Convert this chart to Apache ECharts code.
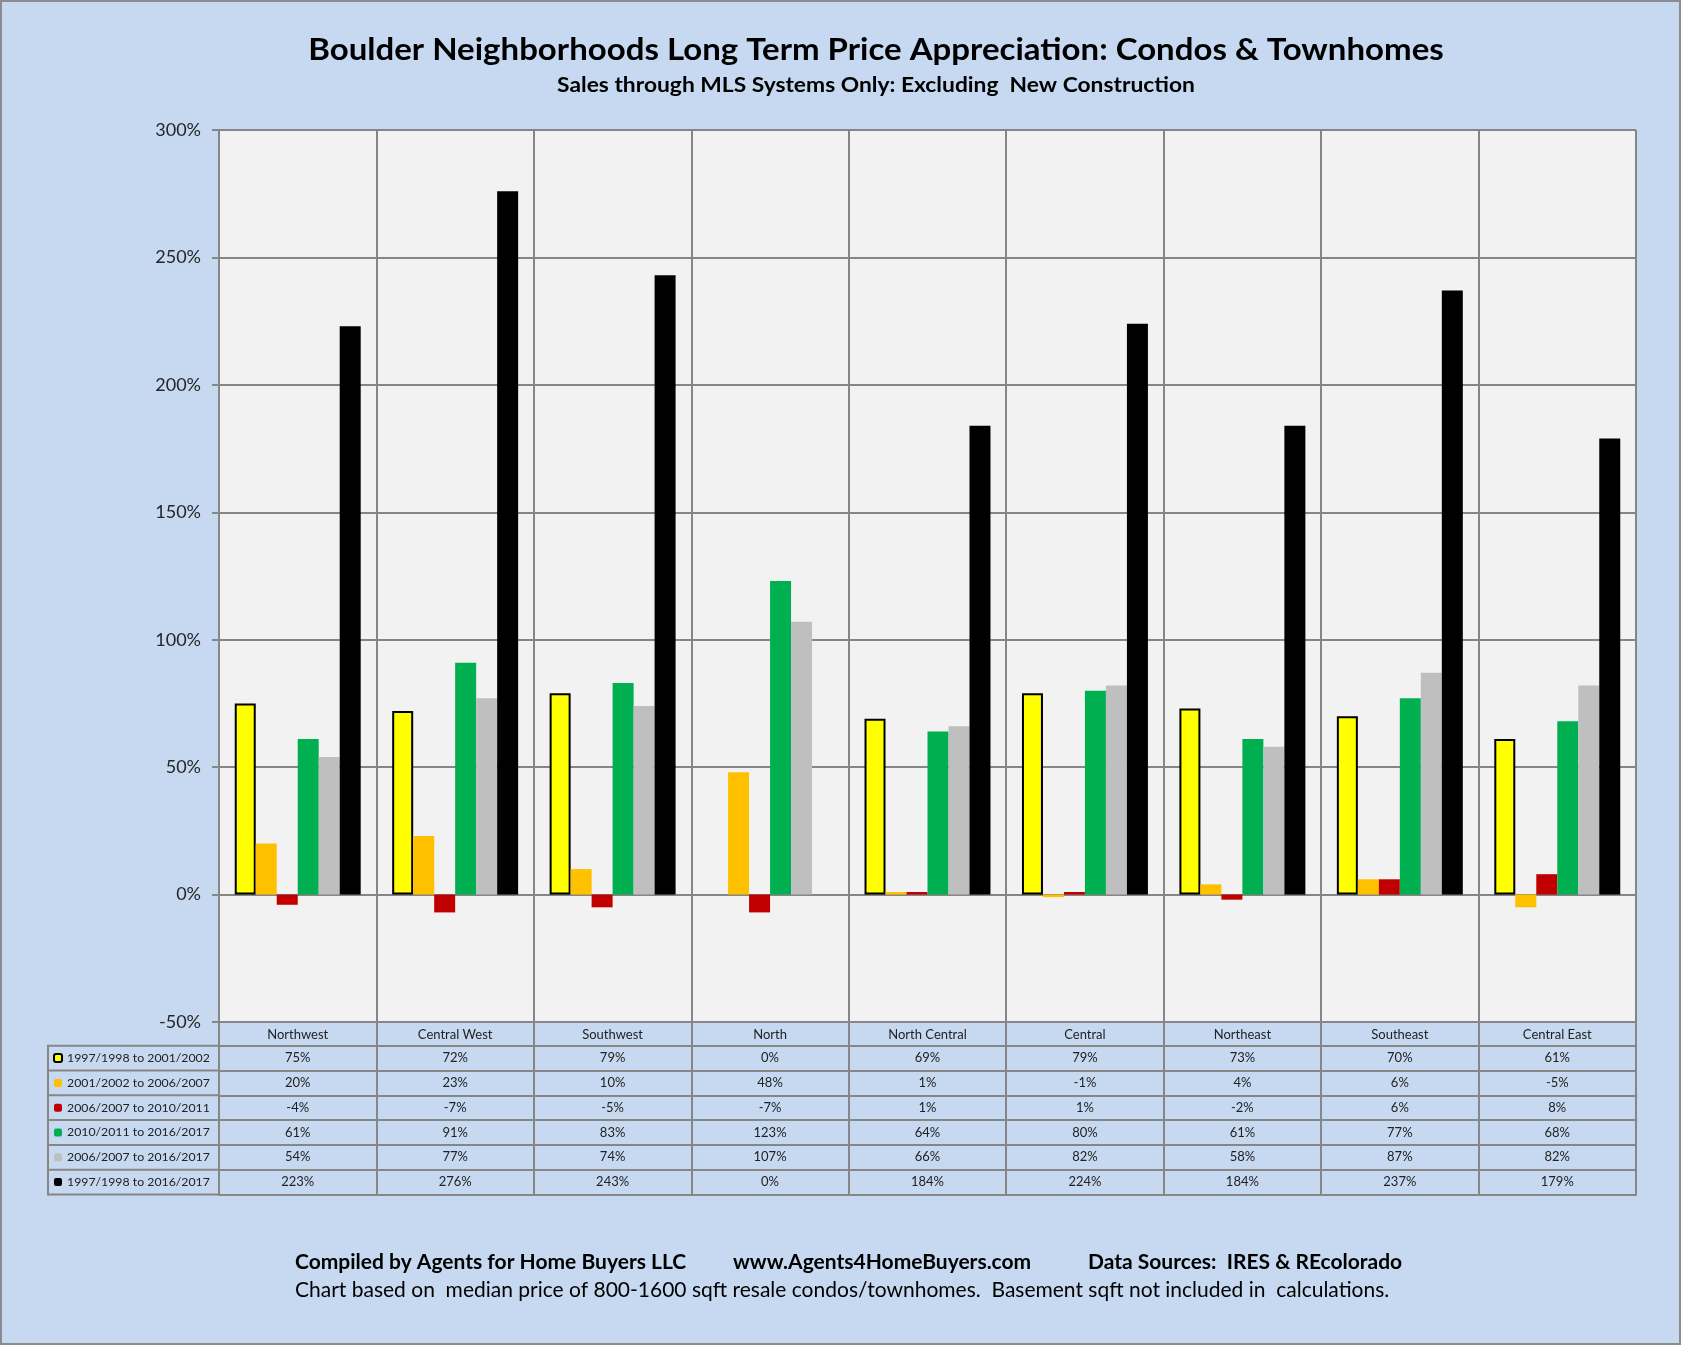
<!DOCTYPE html>
<html lang="en">
  <head>
    <meta charset="UTF-8" />
    <title>Boulder Neighborhoods Long Term Price Appreciation</title>
    <script src="https://cdn.jsdelivr.net/npm/echarts@6/dist/echarts.min.js"></script>
    <style>
      body { margin: 0; }
    </style>
  </head>

  <body>
    <div id="main" style="width: 1681px; height: 1345px"></div>

    <script type="text/javascript">
      // neighbourhoods along the x axis
      const categories = ["Northwest", "Central West", "Southwest", "North", "North Central",
        "Central", "Northeast", "Southeast", "Central East"];

      // period labels (legend / table row headers)
      const periods = ["1997/1998 to 2001/2002", "2001/2002 to 2006/2007", "2006/2007 to 2010/2011",
        "2010/2011 to 2016/2017", "2006/2007 to 2016/2017", "1997/1998 to 2016/2017"];

      // appreciation in percent, one array per period
      const p9702 = [75, 72, 79, 0, 69, 79, 73, 70, 61];
      const p0207 = [20, 23, 10, 48, 1, -1, 4, 6, -5];
      const p0711 = [-4, -7, -5, -7, 1, 1, -2, 6, 8];
      const p1117 = [61, 91, 83, 123, 64, 80, 61, 77, 68];
      const p0717 = [54, 77, 74, 107, 66, 82, 58, 87, 82];
      const p9717 = [223, 276, 243, 0, 184, 224, 184, 237, 179];

      const yTicks = { min: -50, max: 300, step: 50 };

      const rows = [p9702, p0207, p0711, p1117, p0717, p9717];
      const colors = ["#ffff00", "#ffc000", "#c00000", "#00b050", "#bfbfbf", "#000000"];

      let myChart = echarts.init(document.getElementById("main"));

      const font = "Lato";
      const lineCol = "#868686";
      const gridL = 219, gridT = 130, gridW = 1417, gridH = 892;
      const catRowH = 23.7, rowH = 24.8; // data table row heights

      // extra x axes act as the data table rows under the plot
      const xAxes = [
        {
          type: "category",
          data: categories,
          position: "bottom",
          axisLine: { onZero: false, lineStyle: { color: lineCol, width: 2 } },
          axisTick: { show: true, interval: 0, length: catRowH, lineStyle: { color: lineCol, width: 2 } },
          splitLine: { show: true, interval: 0, lineStyle: { color: lineCol, width: 2 } },
          axisLabel: { interval: 0, fontFamily: font, fontSize: 13, color: "#222", verticalAlign: "middle", margin: catRowH / 2 + 1 },
        },
      ];
      rows.forEach((r, k) => {
        xAxes.push({
          type: "category",
          data: categories,
          position: "bottom",
          offset: catRowH + k * rowH,
          axisLine: { onZero: false, lineStyle: { color: lineCol, width: 2 } },
          axisTick: { show: true, interval: 0, length: rowH, lineStyle: { color: lineCol, width: 2 } },
          splitLine: { show: false },
          axisLabel: {
            interval: 0, fontFamily: font, fontSize: 13, color: "#222",
            verticalAlign: "middle", margin: rowH / 2,
            formatter: (v, i) => r[i] + "%",
          },
        });
      });
      // bottom edge of the table
      xAxes.push({
        type: "category",
        data: categories,
        position: "bottom",
        offset: catRowH + rows.length * rowH,
        axisLine: { onZero: false, lineStyle: { color: lineCol, width: 2 } },
        axisTick: { show: false },
        splitLine: { show: false },
        axisLabel: { show: false },
      });

      // row header column borders on the left of the table
      const tableTop = gridT + gridH + catRowH;
      const graphics = [];
      for (let k = 0; k <= rows.length; k++) {
        graphics.push({
          type: "line",
          shape: { x1: 48, y1: tableTop + k * rowH, x2: gridL, y2: tableTop + k * rowH },
          style: { stroke: lineCol, lineWidth: 2 },
        });
      }
      graphics.push({
        type: "line",
        shape: { x1: 48, y1: tableTop - 1, x2: 48, y2: tableTop + rows.length * rowH + 1 },
        style: { stroke: lineCol, lineWidth: 2 },
      });

      // titles and footer (stretched a little to match the original's wide type)
      graphics.push(
        {
          type: "text", x: 876, y: 50, scaleX: 1.1,
          style: { text: "Boulder Neighborhoods Long Term Price Appreciation: Condos & Townhomes",
            font: "bold 30px " + font, fill: "#000", textAlign: "center", textVerticalAlign: "middle" },
        },
        {
          type: "text", x: 876, y: 86, scaleX: 1.14,
          style: { text: "Sales through MLS Systems Only: Excluding  New Construction",
            font: "bold 20px " + font, fill: "#000", textAlign: "center", textVerticalAlign: "middle" },
        },
        {
          type: "text", x: 295, y: 1262,
          style: { text: "Compiled by Agents for Home Buyers LLC", font: "bold 21px " + font, fill: "#000", textVerticalAlign: "middle" },
        },
        {
          type: "text", x: 733, y: 1262,
          style: { text: "www.Agents4HomeBuyers.com", font: "bold 21px " + font, fill: "#000", textVerticalAlign: "middle" },
        },
        {
          type: "text", x: 1088, y: 1262,
          style: { text: "Data Sources:  IRES & REcolorado", font: "bold 21px " + font, fill: "#000", textVerticalAlign: "middle" },
        },
        {
          type: "text", x: 295, y: 1290,
          style: { text: "Chart based on  median price of 800-1600 sqft resale condos/townhomes.  Basement sqft not included in  calculations.",
            font: "21px " + font, fill: "#000", textVerticalAlign: "middle" },
        },
        {
          type: "rect",
          shape: { x: 1, y: 1, width: 1679, height: 1343 },
          style: { fill: "none", stroke: "#8c8c8c", lineWidth: 2 },
        }
      );

      let options = {
        backgroundColor: "#c6d9f1",
        animation: false,
        grid: {
          left: gridL, top: gridT, width: gridW, height: gridH,
          show: true, backgroundColor: "#f2f2f2", borderWidth: 0,
        },
        legend: {
          orient: "vertical",
          left: 53,
          top: tableTop + (rowH - 16) / 2,
          padding: 0,
          itemWidth: 8,
          itemHeight: 8,
          itemGap: rowH - 16,
          selectedMode: false,
          textStyle: { fontFamily: font, fontSize: 12.3, lineHeight: 16, color: "#222" },
          data: periods,
        },
        xAxis: xAxes,
        yAxis: {
          type: "value",
          min: yTicks.min,
          max: yTicks.max,
          interval: yTicks.step,
          axisLine: { show: true, lineStyle: { color: lineCol, width: 2 } },
          axisTick: { show: true, length: 7, lineStyle: { color: lineCol, width: 2 } },
          splitLine: { show: true, lineStyle: { color: lineCol, width: 2 } },
          axisLabel: { formatter: (v) => v + "%", fontFamily: font, fontSize: 18, color: "#262626", margin: 18 },
        },
        series: rows.map((r, k) => ({
          name: periods[k],
          type: "bar",
          xAxisIndex: 0,
          barGap: "0%",
          barCategoryGap: "20%",
          // the outlined yellow series shows nothing at 0%
          data: k === 0 ? r.map((v) => (v === 0 ? "-" : v)) : r,
          itemStyle: k === 0 ? { color: colors[k], borderColor: "#000", borderWidth: 2 } : { color: colors[k] },
        })),
        graphic: graphics,
      };

      myChart.setOption(options);
    </script>
  </body>
</html>
